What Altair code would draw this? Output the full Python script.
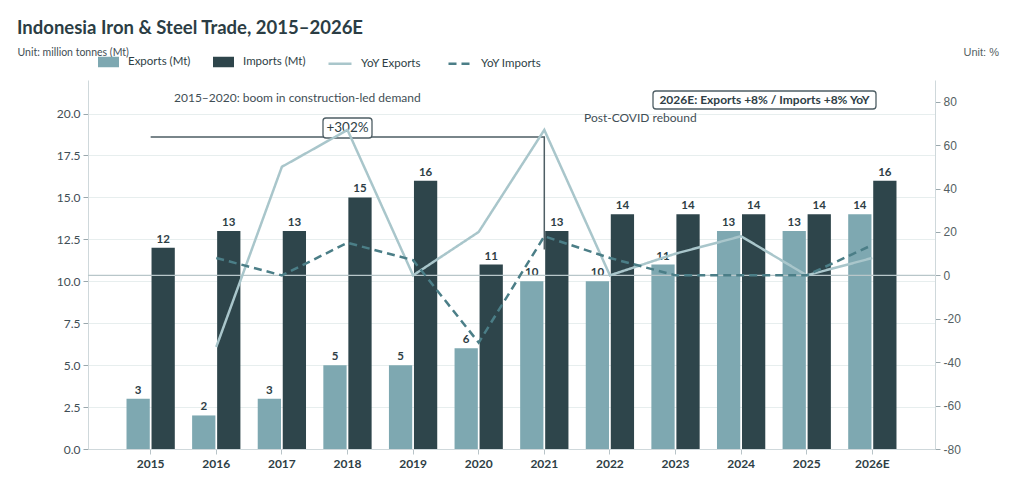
import altair as alt
import pandas as pd

# ---------------- data ----------------
years = ["2015", "2016", "2017", "2018", "2019", "2020", "2021", "2022", "2023", "2024", "2025", "2026E"]
exports_mt = [3, 2, 3, 5, 5, 6, 10, 10, 11, 13, 13, 14]
imports_mt = [12, 13, 13, 15, 16, 11, 13, 14, 14, 14, 14, 16]
yoy_exports = [None, -33, 50, 67, 0, 20, 67, 0, 10, 18, 0, 8]
yoy_imports = [None, 8, 0, 15, 7, -31, 18, 8, 0, 0, 0, 14]
bar_series = ["Exports (Mt)", "Imports (Mt)"]
line_series = ["YoY Exports", "YoY Imports"]
left_ticks = [0, 2.5, 5, 7.5, 10, 12.5, 15, 17.5, 20]
right_ticks = [-80, -60, -40, -20, 0, 20, 40, 60, 80]
zero_level = [0]
bracket_years = ["2015", "2021", "2021"]
bracket_levels = [18.6, 18.6, 11.9]
note_boom = ["2015–2020: boom in construction-led demand"]
note_covid = ["Post-COVID rebound"]
note_2026 = ["2026E: Exports +8% / Imports +8% YoY"]
note_302 = ["+302%"]

TITLE = "Indonesia Iron & Steel Trade, 2015–2026E"
EXP_C = "#7ea8b1"
IMP_C = "#2e454b"
LEXP_C = "#a9c6cb"
LIMP_C = "#4b7e87"
TXT = "#2e3e45"
MUTED = "#3f4e55"
FONT = "Lato"

bars_df = pd.DataFrame(
    [{"year": y, "series": bar_series[0], "value": v} for y, v in zip(years, exports_mt)]
    + [{"year": y, "series": bar_series[1], "value": v} for y, v in zip(years, imports_mt)]
)
lines_df = pd.DataFrame(
    [{"year": y, "series": line_series[0], "yoy": v} for y, v in zip(years, yoy_exports) if v is not None]
    + [{"year": y, "series": line_series[1], "yoy": v} for y, v in zip(years, yoy_imports) if v is not None]
)
zero_df = pd.DataFrame({"yoy": zero_level})
bracket_df = pd.DataFrame({"year": bracket_years, "level": bracket_levels, "idx": [0, 1, 2]})

x_enc = alt.X(
    "year:N",
    sort=years,
    scale=alt.Scale(domain=years, paddingInner=0.264, paddingOuter=0.587),
    axis=alt.Axis(
        title=None, labelAngle=0, labelFont=FONT, labelFontWeight="bold", labelFontSize=12,
        labelColor=TXT, domainColor="#cfd8db", tickColor="#b9c4c8", tickSize=5,
        labelPadding=4, grid=False,
    ),
)

y_left = alt.Y(
    "value:Q",
    scale=alt.Scale(domain=[0, 22], nice=False),
    axis=alt.Axis(
        values=left_ticks, format=".1f", title="Unit: million tonnes (Mt)", titleAngle=0,
        titleX=-71, titleY=-28, titleAlign="left", titleBaseline="middle", titleFont=FONT,
        titleFontSize=10.5, titleFontWeight="normal", titleColor=MUTED, labelFont=FONT,
        labelFontSize=12, labelColor=MUTED, domainColor="#cfd8db", tickColor="#9aa8ad",
        gridColor="#e7eeee", grid=True, tickSize=5, labelPadding=3,
    ),
)

bars = alt.Chart(bars_df).mark_bar().encode(
    x=x_enc,
    xOffset=alt.XOffset("series:N", sort=bar_series,
                        scale=alt.Scale(domain=bar_series, paddingInner=0.07, paddingOuter=0)),
    y=y_left,
    color=alt.Color(
        "series:N",
        scale=alt.Scale(domain=bar_series, range=[EXP_C, IMP_C]),
        legend=alt.Legend(
            title=None, orient="none", legendX=10, legendY=-28.5, direction="horizontal",
            symbolType="M-1,-0.5L1,-0.5L1,0.5L-1,0.5Z", symbolSize=441, symbolStrokeWidth=0,
            labelFont=FONT, labelFontSize=11.5, labelColor=TXT, labelOffset=9, columnPadding=22,
        ),
    ),
)

bar_labels = alt.Chart(bars_df).mark_text(
    baseline="bottom", dy=-3, font=FONT, fontWeight="bold", fontSize=11.5, color=TXT
).encode(
    x=alt.X("year:N", sort=years),
    xOffset=alt.XOffset("series:N", sort=bar_series),
    y=alt.Y("value:Q"),
    text=alt.Text("value:Q", format="d"),
)

bracket = alt.Chart(bracket_df).mark_line(color="#4e5e64", strokeWidth=1.5).encode(
    x=alt.X("year:N", sort=years),
    y=alt.Y("level:Q"),
    order=alt.Order("idx:Q"),
)


def box(x1, x2, y1, y2):
    return alt.Chart(pd.DataFrame({"b": [0]})).mark_rect(
        fill="white", stroke="#4e5e64", strokeWidth=1.3, cornerRadius=3
    ).encode(x=alt.value(x1), x2=alt.value(x2), y=alt.value(y1), y2=alt.value(y2))


def note(values, x, y, size, weight, align="left", color=MUTED):
    return alt.Chart(pd.DataFrame({"t": values})).mark_text(
        align=align, baseline="middle", font=FONT, fontSize=size, fontWeight=weight, color=color
    ).encode(x=alt.value(x), y=alt.value(y), text="t:N")


box302 = box(235, 284, 38, 58)
box2026 = box(565, 788, 11, 29)
t302 = note(note_302, 259.5, 48, 13.5, "normal", align="center", color=TXT)
t2026 = note(note_2026, 676.5, 20, 12, "bold", align="center", color=TXT)
tboom = note(note_boom, 86, 18, 12, "normal")
tcovid = note(note_covid, 496, 38, 12, "normal")

bar_layer = alt.layer(bars, bar_labels, bracket, box302, box2026, t302, t2026, tboom, tcovid)

y_right_scale = alt.Scale(domain=[-80, 90], nice=False)
y_right_axis = alt.Axis(
    orient="right", values=right_ticks, labelExpr="'' + datum.value", title="Unit: %",
    titleAngle=0, titleX=28, titleY=-28, titleAlign="left", titleBaseline="middle",
    titleFont="Liberation Sans", titleFontSize=11, titleFontWeight="normal",
    titleColor="#555f63", labelFont="Liberation Sans", labelFontSize=12,
    labelColor="#555f63", domainColor="#cfd8db", tickColor="#9aa8ad", grid=False,
    tickSize=5, labelPadding=3,
)

zero_rule = alt.Chart(zero_df).mark_rule(color="#b8c6c9", strokeWidth=1.3).encode(
    y=alt.Y("yoy:Q", scale=y_right_scale, axis=y_right_axis)
)

line_legend = alt.Legend(
    title=None, orient="none", legendX=239, legendY=-29.5, direction="horizontal",
    symbolType="stroke", symbolSize=529, symbolStrokeWidth=2.5, labelFont=FONT,
    labelFontSize=11.5, labelColor=TXT, labelOffset=8, columnPadding=22,
)

lines = alt.Chart(lines_df).mark_line(strokeWidth=2.5).encode(
    x=alt.X("year:N", sort=years),
    y=alt.Y("yoy:Q", scale=y_right_scale, axis=y_right_axis),
    color=alt.Color("series:N", sort=line_series,
                    scale=alt.Scale(domain=line_series, range=[LEXP_C, LIMP_C]), legend=line_legend),
    strokeDash=alt.StrokeDash("series:N", sort=line_series,
                              scale=alt.Scale(domain=line_series, range=[[1, 0], [8, 5]]),
                              legend=line_legend),
)

line_layer = alt.layer(zero_rule, lines)

chart = (
    alt.layer(bar_layer, line_layer)
    .resolve_scale(y="independent", color="independent", strokeDash="independent")
    .properties(
        width=847,
        height=369,
        autosize=alt.AutoSizeParams(type="none"),
        padding={"left": 80, "top": 72, "right": 75, "bottom": 32},
        title=alt.TitleParams(
            TITLE, anchor="start", frame="group", dx=-71, offset=9, font=FONT,
            fontSize=18.5, fontWeight="bold", color="#2b3d44",
        ),
    )
    .configure_view(stroke=None)
)

chart.save("out.html", embed_options={"renderer": "svg", "actions": False})
